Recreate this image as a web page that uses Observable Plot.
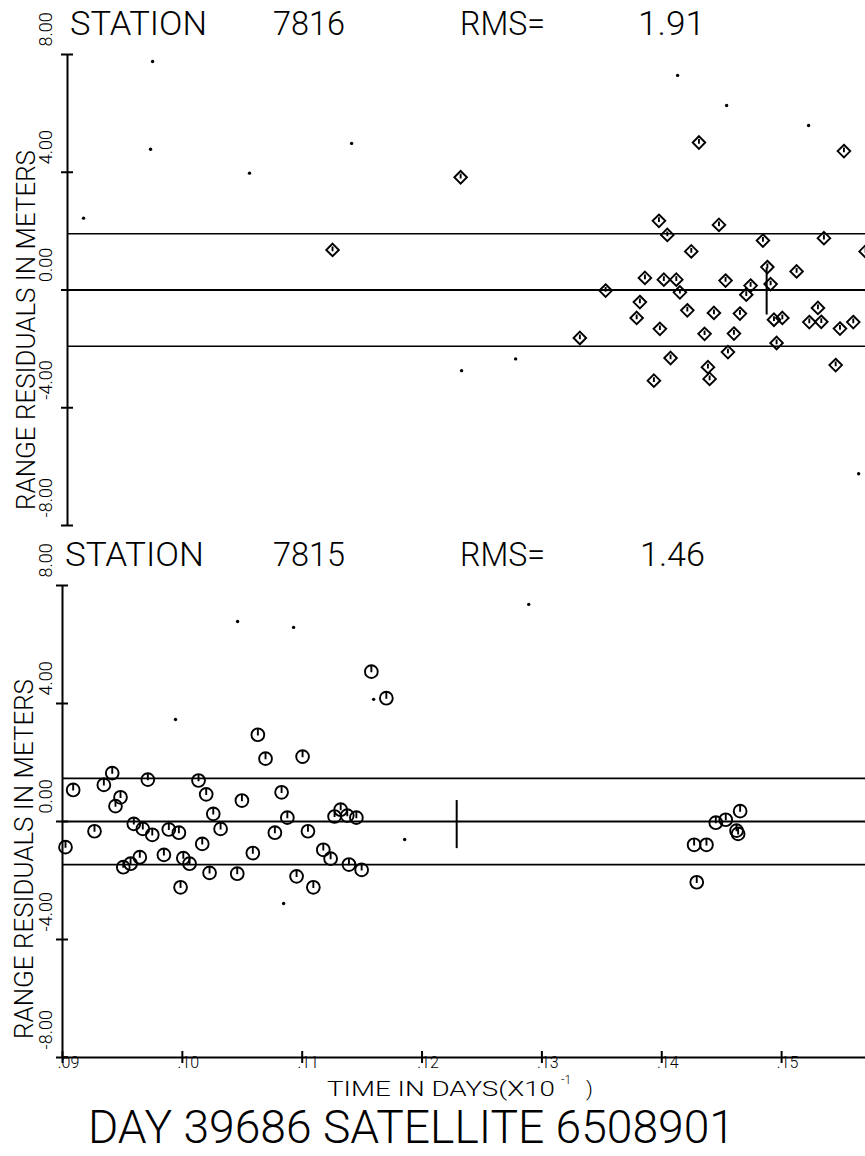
<!DOCTYPE html>
<html><head><meta charset="utf-8">
<script src="https://cdn.jsdelivr.net/npm/d3@7"></script>
<script src="https://cdn.jsdelivr.net/npm/@observablehq/plot@0.6"></script>
<style>
html,body{margin:0;padding:0;background:#fff;}
#wrap{position:relative;width:865px;height:1156px;overflow:hidden;background:#fff;}
#wrap > svg{position:absolute;left:0;}
</style></head><body><div id="wrap"></div>
<script>
// ---------- data ----------
const xTicks = [0.09, 0.10, 0.11, 0.12, 0.13, 0.14, 0.15];
const yTicks = [-8, -4, 0, 4, 8];
const yTitle = "RANGE RESIDUALS IN METERS";
const xTitle = "TIME IN DAYS(X10";
const xTitleSup = "-1";
const footer = "DAY 39686 SATELLITE 6508901";

const station1 = "7816";
const rms1 = 1.91;
const station2 = "7815";
const rms2 = 1.46;

// station 7816 — diamonds (accepted residuals)
const s1Time = [0.12281,0.11212,0.14270,0.15480,0.13936,0.14437,0.14006,0.14804,0.15313,0.15661,0.14206,0.14841,0.15085,0.13819,0.13977,0.14081,0.14492,0.14701,0.14868,0.13491,0.14111,0.14665,0.13777,0.14173,0.14395,0.14612,0.15263,0.13750,0.14896,0.14966,0.15191,0.15291,0.15447,0.15558,0.13944,0.14317,0.14562,0.13276,0.14918,0.14512,0.14033,0.15411,0.14345,0.13894,0.14359];
const s1Resid = [3.83,1.36,5.01,4.72,2.35,2.21,1.87,1.68,1.76,1.31,1.31,0.78,0.63,0.41,0.35,0.35,0.32,0.15,0.20,-0.02,-0.08,-0.16,-0.41,-0.69,-0.78,-0.80,-0.61,-0.95,-1.01,-0.95,-1.09,-1.08,-1.31,-1.09,-1.32,-1.49,-1.48,-1.63,-1.80,-2.11,-2.31,-2.55,-2.62,-3.08,-3.02];
// station 7816 — small dots
const s1DotTime = [0.09710,0.09693,0.09134,0.10519,0.11371,0.12289,0.12740,0.14092,0.14501,0.15185,0.15603];
const s1DotResid = [7.76,4.78,2.44,3.97,4.98,-2.74,-2.34,7.29,6.27,5.59,-6.24];
// station 7816 — vertical marker
const s1BarTime = [0.14835];
const s1BarLow = [-0.85];
const s1BarHigh = [0.75];

// station 7815 — circles
const s2Time = [0.11577,0.11702,0.10630,0.10694,0.11003,0.09415,0.09712,0.10135,0.09089,0.09345,0.09484,0.09442,0.10199,0.10497,0.10828,0.10258,0.10876,0.11321,0.11270,0.11376,0.11452,0.09267,0.09595,0.09670,0.09749,0.09887,0.09971,0.10319,0.10772,0.11048,0.09025,0.10166,0.09846,0.10008,0.10060,0.09645,0.09568,0.09507,0.10588,0.11176,0.11237,0.11390,0.11496,0.10227,0.10458,0.10953,0.11093,0.09985,0.14654,0.14451,0.14534,0.14624,0.14637,0.14270,0.14373,0.14292];
const s2Resid = [5.08,4.18,2.94,2.13,2.20,1.64,1.42,1.39,1.07,1.24,0.82,0.52,0.92,0.71,0.99,0.26,0.13,0.40,0.17,0.20,0.13,-0.33,-0.08,-0.25,-0.45,-0.27,-0.38,-0.25,-0.38,-0.33,-0.87,-0.76,-1.13,-1.24,-1.43,-1.21,-1.43,-1.55,-1.07,-0.96,-1.26,-1.46,-1.64,-1.74,-1.77,-1.86,-2.23,-2.23,0.35,-0.04,0.06,-0.31,-0.42,-0.79,-0.79,-2.06];
const s2DotTime = [0.10461,0.10928,0.12890,0.15770,0.09943,0.11596,0.11855,0.10845];
const s2DotResid = [6.78,6.58,7.36,6.24,3.46,4.14,-0.61,-2.78];
const s2BarTime = [0.12289];
const s2BarLow = [-0.92];
const s2BarHigh = [0.71];

// ---------- rendering ----------
const FONT = "Roboto, 'DejaVu Sans', sans-serif";
const wrap = d3.select("#wrap");

const diamondTick = {
  draw(ctx, size) {
    const r = Math.sqrt(size / Math.PI);
    ctx.moveTo(0, -r); ctx.lineTo(r, 0); ctx.lineTo(0, r); ctx.lineTo(-r, 0); ctx.closePath();
    ctx.moveTo(0, 0.2 * r); ctx.lineTo(0, -0.55 * r);
  }
};
const circleTick = {
  draw(ctx, size) {
    const r = Math.sqrt(size / Math.PI);
    ctx.moveTo(r, 0); ctx.arc(0, 0, r, 0, 2 * Math.PI); ctx.closePath();
    ctx.moveTo(0, -r); ctx.lineTo(0, 0.1 * r);
  }
};

function panel(o) {
  const pts = o.time.map((t, i) => ({t, r: o.resid[i]}));
  const dots = o.dotTime.map((t, i) => ({t, r: o.dotResid[i]}));
  const bars = o.barTime.map((t, i) => ({t, lo: o.barLow[i], hi: o.barHigh[i]}));
  const frameW = 865 - o.marginLeft;
  const frameH = o.height - o.marginTop - o.marginBottom;
  const marks = [
    Plot.ruleY([0], {stroke: "#000", strokeWidth: 2.2}),
    Plot.ruleY([o.rms, -o.rms], {stroke: "#000", strokeWidth: 1.7}),
    Plot.ruleX([xTicks[0]], {y1: yTicks[0], y2: yTicks[yTicks.length - 1], stroke: "#000", strokeWidth: 2}),
    Plot.tickY(yTicks, {y: d => d, insetLeft: -6, insetRight: frameW - 6, stroke: "#000", strokeWidth: 2}),
    Plot.text(yTicks, {y: d => d, text: d => d.toFixed(2), rotate: -90, frameAnchor: "left",
      dx: o.labelDx, dy: -8, fontSize: 18, fontWeight: 300, fontFamily: FONT, fill: "#000"}),
    Plot.dot(dots, {x: "t", y: "r", r: 1.7, fill: "#000", stroke: null}),
    Plot.ruleX(bars, {x: "t", y1: "lo", y2: "hi", stroke: "#000", strokeWidth: 2}),
    Plot.dot(pts, {x: "t", y: "r", symbol: o.symbol, r: o.symbolR, stroke: "#000", strokeWidth: 1.9, fill: "none"})
  ];
  if (o.xAxis) {
    marks.push(
      Plot.ruleY([yTicks[0]], {stroke: "#000", strokeWidth: 2}),
      Plot.tickX(xTicks, {x: d => d, insetTop: frameH - 6, insetBottom: -6, stroke: "#000", strokeWidth: 2}),
      Plot.text(xTicks, {x: d => d, text: d => d3.format(".2f")(d).replace(/^0/, ""), frameAnchor: "bottom",
        dy: 10, dx: 6, fontSize: 16, fontWeight: 300, fontFamily: FONT, fill: "#000"})
    );
  }
  const svg = Plot.plot({
    width: 865,
    height: o.height,
    marginLeft: o.marginLeft,
    marginRight: 0,
    marginTop: o.marginTop,
    marginBottom: o.marginBottom,
    style: {background: "transparent", overflow: "visible"},
    x: {domain: o.xDomain, axis: null},
    y: {domain: [yTicks[0], yTicks[yTicks.length - 1]], axis: null},
    marks
  });
  const node = wrap.node().appendChild(svg);
  d3.select(node).style("top", o.top + "px");
}

panel({
  top: 0, height: 540, marginTop: 54, marginBottom: 15, marginLeft: 67, labelDx: -21,
  xDomain: [0.09, 0.1566],
  time: s1Time, resid: s1Resid, dotTime: s1DotTime, dotResid: s1DotResid,
  barTime: s1BarTime, barLow: s1BarLow, barHigh: s1BarHigh,
  rms: rms1, symbol: diamondTick, symbolR: 6.3, xAxis: false
});
panel({
  top: 530, height: 626, marginTop: 55, marginBottom: 99, marginLeft: 62, labelDx: -16,
  xDomain: [0.09, 0.1570],
  time: s2Time, resid: s2Resid, dotTime: s2DotTime, dotResid: s2DotResid,
  barTime: s2BarTime, barLow: s2BarLow, barHigh: s2BarHigh,
  rms: rms2, symbol: circleTick, symbolR: 6.4, xAxis: true
});

// ---------- text overlay ----------
const ov = wrap.append("svg").attr("width", 865).attr("height", 1156).style("top", "0px")
  .attr("font-family", FONT).attr("font-weight", 300).attr("fill", "#000");

function word(x, y, s, size, len) {
  ov.append("text").attr("x", x).attr("y", y).attr("font-size", size)
    .attr("textLength", len).attr("lengthAdjust", "spacingAndGlyphs").text(s);
}
// titles
word(70, 35, "STATION", 33, 137); word(273, 35, station1, 33, 72);
word(460, 35, "RMS=", 33, 85); word(638, 35, rms1.toFixed(2), 33, 67);
word(65, 566, "STATION", 33, 139); word(273, 566, station2, 33, 72);
word(460, 566, "RMS=", 33, 85); word(640, 566, rms2.toFixed(2), 33, 65);

// y titles
[[330, 35], [859, 33]].forEach(([cy, bx]) => {
  ov.append("text").attr("transform", `translate(${bx},${cy}) rotate(-90)`)
    .attr("text-anchor", "middle").attr("font-size", 25)
    .attr("textLength", 360).attr("lengthAdjust", "spacingAndGlyphs").text(yTitle);
});

// x title
ov.append("text").attr("x", 327).attr("y", 1096).attr("font-size", 21)
  .attr("textLength", 228).attr("lengthAdjust", "spacingAndGlyphs").text(xTitle);
ov.append("text").attr("x", 561).attr("y", 1084).attr("font-size", 12).text(xTitleSup);
ov.append("text").attr("x", 586).attr("y", 1096).attr("font-size", 21).text(")");

// footer
word(88, 1143, footer, 46, 647);
</script></body></html>
